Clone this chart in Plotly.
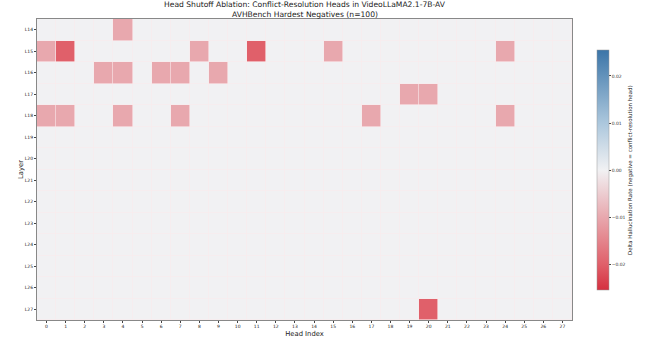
import plotly.graph_objects as go

layers = ["L14", "L15", "L16", "L17", "L18", "L19", "L20", "L21", "L22", "L23", "L24", "L25", "L26", "L27"]
heads = list(range(28))

# nonzero cells: (layer, head, delta)
cells_layer = ["L14", "L15", "L15", "L15", "L15", "L15", "L15",
               "L16", "L16", "L16", "L16", "L16",
               "L17", "L17",
               "L18", "L18", "L18", "L18", "L18", "L18",
               "L27"]
cells_head = [4, 0, 1, 8, 11, 15, 24,
              3, 4, 6, 7, 9,
              19, 20,
              0, 1, 4, 7, 17, 24,
              20]
cells_val = [-0.01, -0.01, -0.02, -0.01, -0.02, -0.01, -0.01,
             -0.01, -0.01, -0.01, -0.01, -0.01,
             -0.01, -0.01,
             -0.01, -0.01, -0.01, -0.01, -0.01, -0.01,
             -0.02]

z = [[0.0 for _ in heads] for _ in layers]
for l, h, v in zip(cells_layer, cells_head, cells_val):
    z[layers.index(l)][h] = v

vmax = 0.0255
colorscale = [
    [0.0, "rgb(213,48,64)"],
    [0.108, "rgb(224,96,106)"],
    [0.304, "rgb(232,168,174)"],
    [0.5, "rgb(241,241,243)"],
    [0.7, "rgb(170,198,220)"],
    [1.0, "rgb(59,117,168)"],
]

fig = go.Figure(go.Heatmap(
    z=z, x=heads, y=layers,
    zmin=-vmax, zmax=vmax, colorscale=colorscale,
    xgap=0.6, ygap=0.6,
    colorbar=dict(
        x=1.047, xanchor="left", xref="paper", xpad=0, ypad=0,
        y=0.498, yanchor="middle", len=0.797, lenmode="fraction",
        thickness=12, outlinewidth=0.5, outlinecolor="#999",
        tickvals=[-0.02, -0.01, 0, 0.01, 0.02],
        ticktext=["\u22120.02", "\u22120.01", "0.00", "0.01", "0.02"],
        ticks="outside", ticklen=2, tickfont=dict(size=4.5, color="#333"),
    ),
))

title_lines = ["Head Shutoff Ablation: Conflict-Resolution Heads in VideoLLaMA2.1-7B-AV",
               "AVHBench Hardest Negatives (n=100)"]
annotations = []
for i, txt in enumerate(title_lines):
    annotations.append(dict(
        text=txt, xref="paper", yref="paper", x=0.5, xanchor="center",
        y=(320 - (5 + 10 * i)) / 301, yanchor="middle", showarrow=False,
        font=dict(size=7.6, color="#222"),
    ))
annotations.append(dict(
    text="Delta Hallucination Rate (negative = conflict-resolution head)",
    xref="paper", yref="paper", x=(630 - 37) / 535, y=0.498,
    xanchor="center", yanchor="middle", textangle=-90, showarrow=False,
    font=dict(size=5.5, color="#222"),
))

fig.update_layout(
    width=645, height=342,
    margin=dict(l=37, r=73, t=19, b=22, autoexpand=False),
    paper_bgcolor="white", plot_bgcolor="rgb(250,235,237)",
    font=dict(family="DejaVu Sans", color="#222"),
    annotations=annotations,
)
fig.update_xaxes(
    title=dict(text="Head Index", font=dict(size=6.8), standoff=2),
    tickmode="array", tickvals=heads, ticktext=[str(h) for h in heads],
    tickfont=dict(size=4.5), ticks="outside", ticklen=2, automargin=False,
    showgrid=False, zeroline=False, showline=True, linecolor="#888", linewidth=1, mirror=True,
    range=[-0.5, 27.5],
)
fig.update_yaxes(
    title=dict(text="Layer", font=dict(size=6.8), standoff=0),
    autorange="reversed", tickfont=dict(size=4.5), ticks="outside", ticklen=2, automargin=False,
    showgrid=False, zeroline=False, showline=True, linecolor="#888", linewidth=1, mirror=True,
)

fig.write_html("out.html", config={"displayModeBar": False},
               post_script="document.body.style.margin='0';document.body.style.overflow='hidden';")
